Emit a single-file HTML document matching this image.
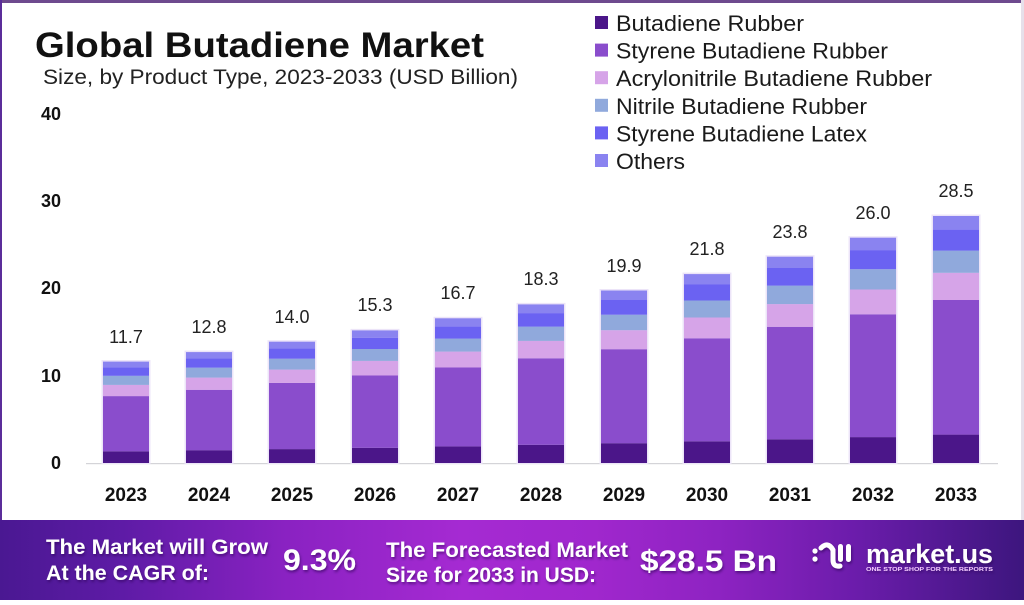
<!DOCTYPE html>
<html>
<head>
<meta charset="utf-8">
<style>
html,body{margin:0;padding:0;background:#fff;}
body{width:1024px;height:605px;overflow:hidden;position:relative;font-family:"Liberation Sans",sans-serif;}
#frame{position:absolute;left:0;top:0;width:1024px;height:605px;}
#footer{position:absolute;left:0;top:520px;width:1024px;height:80px;
background:linear-gradient(90deg,#4a1892 0%,#5e1ba6 12%,#8a22c2 28%,#a52ad2 45%,#a027cd 58%,#8e23c2 70%,#6a1caa 84%,#3d167e 100%);}
svg text{font-family:"Liberation Sans",sans-serif;}
</style>
</head>
<body>
<div id="footer"></div>
<svg id="frame" width="1024" height="605" viewBox="0 0 1024 605" xmlns="http://www.w3.org/2000/svg">
  <!-- borders -->
  <rect x="0" y="0" width="1024" height="3" fill="#6e4a8e"/>
  <rect x="0" y="0" width="2" height="520" fill="#5b2d9a"/>
  <rect x="1021" y="0" width="3" height="520" fill="#e6e0ea"/>

  <!-- title -->
  <text x="35" y="57" font-size="35" font-weight="bold" fill="#111" textLength="449" lengthAdjust="spacingAndGlyphs">Global Butadiene Market</text>
  <text x="43" y="84" font-size="21" fill="#222" textLength="475" lengthAdjust="spacingAndGlyphs">Size, by Product Type, 2023-2033 (USD Billion)</text>

  <!-- legend -->
  <g font-size="22.5" fill="#1a1a1a">
    <rect x="595" y="16" width="13" height="13" fill="#4b1689"/>
    <text x="616" y="31" textLength="188" lengthAdjust="spacingAndGlyphs">Butadiene Rubber</text>
    <rect x="595" y="43.6" width="13" height="13" fill="#8a4dcc"/>
    <text x="616" y="58.6" textLength="272" lengthAdjust="spacingAndGlyphs">Styrene Butadiene Rubber</text>
    <rect x="595" y="71.2" width="13" height="13" fill="#d6a4e8"/>
    <text x="616" y="86.2" textLength="316" lengthAdjust="spacingAndGlyphs">Acrylonitrile Butadiene Rubber</text>
    <rect x="595" y="98.8" width="13" height="13" fill="#90a9dc"/>
    <text x="616" y="113.8" textLength="251" lengthAdjust="spacingAndGlyphs">Nitrile Butadiene Rubber</text>
    <rect x="595" y="126.4" width="13" height="13" fill="#6b62f2"/>
    <text x="616" y="141.4" textLength="251" lengthAdjust="spacingAndGlyphs">Styrene Butadiene Latex</text>
    <rect x="595" y="154" width="13" height="13" fill="#8a83f0"/>
    <text x="616" y="169" textLength="69" lengthAdjust="spacingAndGlyphs">Others</text>
  </g>

  <!-- y axis labels -->
  <g font-size="18" font-weight="bold" fill="#111" text-anchor="end">
    <text x="61" y="120">40</text>
    <text x="61" y="207">30</text>
    <text x="61" y="294">20</text>
    <text x="61" y="382">10</text>
    <text x="61" y="469">0</text>
  </g>

  <!-- axis line -->
  <rect x="86" y="463" width="912" height="1.2" fill="#d4d4d8"/>

  <!-- bars -->
  <g id="bars">
    <g transform="translate(103,0)">
      <rect x="-1.5" y="360.1" width="49" height="103.9" fill="#ece4f8"/>
      <rect x="0" y="451.3" width="46" height="11.7" fill="#4b1689"/>
      <rect x="0" y="396.1" width="46" height="55.2" fill="#8a4dcc"/>
      <rect x="0" y="384.9" width="46" height="11.2" fill="#d6a4e8"/>
      <rect x="0" y="375.8" width="46" height="9.1" fill="#90a9dc"/>
      <rect x="0" y="367.2" width="46" height="8.6" fill="#6b62f2"/>
      <rect x="0" y="361.6" width="46" height="5.6" fill="#8a83f0"/>
    </g>
    <g transform="translate(186,0)">
      <rect x="-1.5" y="350.6" width="49" height="113.4" fill="#ece4f8"/>
      <rect x="0" y="450.2" width="46" height="12.8" fill="#4b1689"/>
      <rect x="0" y="389.8" width="46" height="60.4" fill="#8a4dcc"/>
      <rect x="0" y="377.6" width="46" height="12.2" fill="#d6a4e8"/>
      <rect x="0" y="367.6" width="46" height="10" fill="#90a9dc"/>
      <rect x="0" y="358.2" width="46" height="9.4" fill="#6b62f2"/>
      <rect x="0" y="352.1" width="46" height="6.1" fill="#8a83f0"/>
    </g>
    <g transform="translate(269,0)">
      <rect x="-1.5" y="340.2" width="49" height="123.8" fill="#ece4f8"/>
      <rect x="0" y="449.1" width="46" height="13.9" fill="#4b1689"/>
      <rect x="0" y="382.9" width="46" height="66.2" fill="#8a4dcc"/>
      <rect x="0" y="369.6" width="46" height="13.3" fill="#d6a4e8"/>
      <rect x="0" y="358.7" width="46" height="10.9" fill="#90a9dc"/>
      <rect x="0" y="348.4" width="46" height="10.3" fill="#6b62f2"/>
      <rect x="0" y="341.7" width="46" height="6.7" fill="#8a83f0"/>
    </g>
    <g transform="translate(352,0)">
      <rect x="-1.5" y="328.9" width="49" height="135.1" fill="#ece4f8"/>
      <rect x="0" y="447.8" width="46" height="15.2" fill="#4b1689"/>
      <rect x="0" y="375.5" width="46" height="72.3" fill="#8a4dcc"/>
      <rect x="0" y="360.9" width="46" height="14.6" fill="#d6a4e8"/>
      <rect x="0" y="349.0" width="46" height="11.9" fill="#90a9dc"/>
      <rect x="0" y="337.7" width="46" height="11.3" fill="#6b62f2"/>
      <rect x="0" y="330.4" width="46" height="7.3" fill="#8a83f0"/>
    </g>
    <g transform="translate(435,0)">
      <rect x="-1.5" y="316.8" width="49" height="147.2" fill="#ece4f8"/>
      <rect x="0" y="446.4" width="46" height="16.6" fill="#4b1689"/>
      <rect x="0" y="367.5" width="46" height="78.9" fill="#8a4dcc"/>
      <rect x="0" y="351.6" width="46" height="15.9" fill="#d6a4e8"/>
      <rect x="0" y="338.6" width="46" height="13" fill="#90a9dc"/>
      <rect x="0" y="326.3" width="46" height="12.3" fill="#6b62f2"/>
      <rect x="0" y="318.3" width="46" height="8" fill="#8a83f0"/>
    </g>
    <g transform="translate(518,0)">
      <rect x="-1.5" y="302.9" width="49" height="161.1" fill="#ece4f8"/>
      <rect x="0" y="444.8" width="46" height="18.2" fill="#4b1689"/>
      <rect x="0" y="358.3" width="46" height="86.5" fill="#8a4dcc"/>
      <rect x="0" y="340.9" width="46" height="17.4" fill="#d6a4e8"/>
      <rect x="0" y="326.6" width="46" height="14.3" fill="#90a9dc"/>
      <rect x="0" y="313.1" width="46" height="13.5" fill="#6b62f2"/>
      <rect x="0" y="304.4" width="46" height="8.7" fill="#8a83f0"/>
    </g>
    <g transform="translate(601,0)">
      <rect x="-1.5" y="289.0" width="49" height="175" fill="#ece4f8"/>
      <rect x="0" y="443.2" width="46" height="19.8" fill="#4b1689"/>
      <rect x="0" y="349.2" width="46" height="94" fill="#8a4dcc"/>
      <rect x="0" y="330.2" width="46" height="19" fill="#d6a4e8"/>
      <rect x="0" y="314.7" width="46" height="15.5" fill="#90a9dc"/>
      <rect x="0" y="300.0" width="46" height="14.7" fill="#6b62f2"/>
      <rect x="0" y="290.5" width="46" height="9.5" fill="#8a83f0"/>
    </g>
    <g transform="translate(684,0)">
      <rect x="-1.5" y="272.6" width="49" height="191.4" fill="#ece4f8"/>
      <rect x="0" y="441.3" width="46" height="21.7" fill="#4b1689"/>
      <rect x="0" y="338.3" width="46" height="103" fill="#8a4dcc"/>
      <rect x="0" y="317.5" width="46" height="20.8" fill="#d6a4e8"/>
      <rect x="0" y="300.5" width="46" height="17" fill="#90a9dc"/>
      <rect x="0" y="284.5" width="46" height="16" fill="#6b62f2"/>
      <rect x="0" y="274.1" width="46" height="10.4" fill="#8a83f0"/>
    </g>
    <g transform="translate(767,0)">
      <rect x="-1.5" y="255.2" width="49" height="208.8" fill="#ece4f8"/>
      <rect x="0" y="439.3" width="46" height="23.7" fill="#4b1689"/>
      <rect x="0" y="326.8" width="46" height="112.5" fill="#8a4dcc"/>
      <rect x="0" y="304.1" width="46" height="22.7" fill="#d6a4e8"/>
      <rect x="0" y="285.6" width="46" height="18.5" fill="#90a9dc"/>
      <rect x="0" y="268.0" width="46" height="17.6" fill="#6b62f2"/>
      <rect x="0" y="256.7" width="46" height="11.3" fill="#8a83f0"/>
    </g>
    <g transform="translate(850,0)">
      <rect x="-1.5" y="236.2" width="49" height="227.8" fill="#ece4f8"/>
      <rect x="0" y="437.1" width="46" height="25.9" fill="#4b1689"/>
      <rect x="0" y="314.3" width="46" height="122.8" fill="#8a4dcc"/>
      <rect x="0" y="289.5" width="46" height="24.8" fill="#d6a4e8"/>
      <rect x="0" y="269.2" width="46" height="20.3" fill="#90a9dc"/>
      <rect x="0" y="250.1" width="46" height="19.1" fill="#6b62f2"/>
      <rect x="0" y="237.7" width="46" height="12.4" fill="#8a83f0"/>
    </g>
    <g transform="translate(933,0)">
      <rect x="-1.5" y="214.5" width="49" height="249.5" fill="#ece4f8"/>
      <rect x="0" y="434.6" width="46" height="28.4" fill="#4b1689"/>
      <rect x="0" y="300.0" width="46" height="134.6" fill="#8a4dcc"/>
      <rect x="0" y="272.8" width="46" height="27.2" fill="#d6a4e8"/>
      <rect x="0" y="250.6" width="46" height="22.2" fill="#90a9dc"/>
      <rect x="0" y="229.6" width="46" height="21" fill="#6b62f2"/>
      <rect x="0" y="216.0" width="46" height="13.6" fill="#8a83f0"/>
    </g>
  </g>

  <!-- value labels -->
  <g font-size="18" fill="#222" text-anchor="middle">
    <text x="126" y="343">11.7</text>
    <text x="209" y="333">12.8</text>
    <text x="292" y="323">14.0</text>
    <text x="375" y="311">15.3</text>
    <text x="458" y="299">16.7</text>
    <text x="541" y="285">18.3</text>
    <text x="624" y="272">19.9</text>
    <text x="707" y="255">21.8</text>
    <text x="790" y="238">23.8</text>
    <text x="873" y="219">26.0</text>
    <text x="956" y="197">28.5</text>
  </g>

  <!-- x labels -->
  <g font-size="19" font-weight="bold" fill="#111" text-anchor="middle">
    <text x="126" y="501">2023</text>
    <text x="209" y="501">2024</text>
    <text x="292" y="501">2025</text>
    <text x="375" y="501">2026</text>
    <text x="458" y="501">2027</text>
    <text x="541" y="501">2028</text>
    <text x="624" y="501">2029</text>
    <text x="707" y="501">2030</text>
    <text x="790" y="501">2031</text>
    <text x="873" y="501">2032</text>
    <text x="956" y="501">2033</text>
  </g>

  <!-- footer text -->
  <defs>
    <filter id="sh" x="-10%" y="-30%" width="120%" height="160%">
      <feDropShadow dx="1" dy="2" stdDeviation="1.2" flood-color="#2a0050" flood-opacity="0.55"/>
    </filter>
  </defs>
  <g fill="#fff" font-weight="bold" filter="url(#sh)">
    <text x="46" y="554" font-size="21" textLength="222" lengthAdjust="spacingAndGlyphs">The Market will Grow</text>
    <text x="46" y="580" font-size="21" textLength="163" lengthAdjust="spacingAndGlyphs">At the CAGR of:</text>
    <text x="283" y="570" font-size="30" textLength="73" lengthAdjust="spacingAndGlyphs">9.3%</text>
    <text x="386" y="557" font-size="21" textLength="242" lengthAdjust="spacingAndGlyphs">The Forecasted Market</text>
    <text x="386" y="582" font-size="21" textLength="210" lengthAdjust="spacingAndGlyphs">Size for 2033 in USD:</text>
    <text x="640" y="571" font-size="30" textLength="137" lengthAdjust="spacingAndGlyphs">$28.5 Bn</text>
  </g>

  <!-- logo -->
  <g filter="url(#sh)">
    <circle cx="815" cy="551" r="2.6" fill="#fff"/>
    <circle cx="815" cy="559" r="2.6" fill="#fff"/>
    <path d="M821 548 Q828 541 833 550 L833 560 Q833 567 840 566" stroke="#fff" stroke-width="5" fill="none" stroke-linecap="round"/>
    <rect x="838" y="544" width="5" height="18" rx="2.5" fill="#fff"/>
    <rect x="846" y="544" width="5" height="18" rx="2.5" fill="#fff"/>
    <text x="866" y="563" font-size="27" font-weight="bold" fill="#fff" textLength="127" lengthAdjust="spacingAndGlyphs">market.us</text>
    <text x="866" y="571" font-size="5" font-weight="bold" fill="#f3c9ff" textLength="127" lengthAdjust="spacingAndGlyphs">ONE STOP SHOP FOR THE REPORTS</text>
  </g>
</svg>
</body>
</html>
